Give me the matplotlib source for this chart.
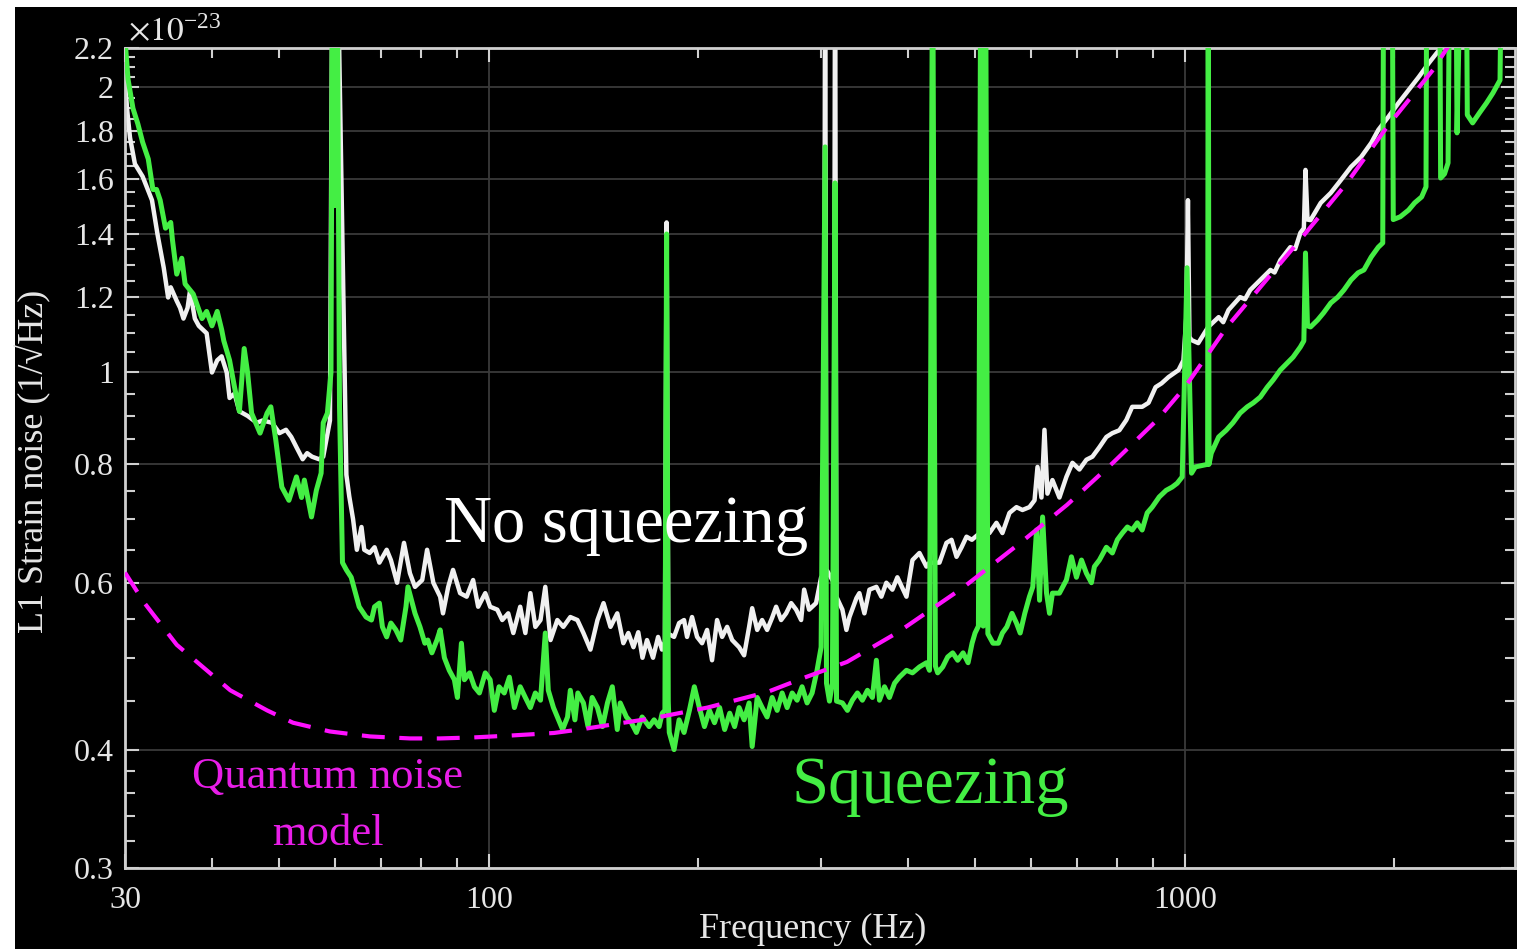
import matplotlib
matplotlib.use('Agg')
import matplotlib.pyplot as plt
from matplotlib.ticker import FixedLocator, FixedFormatter, NullFormatter
from matplotlib.patches import Rectangle

plt.rcParams['font.family'] = ['Liberation Serif', 'DejaVu Serif']
plt.rcParams['mathtext.fontset'] = 'stix'

# ---------------- data (strain noise in units of 1e-23 /sqrt(Hz)) ----------------
white_f = [30, 30.2, 30.5, 31.0, 31.8, 32.8, 33.4, 34.1, 34.6, 34.9, 35.6, 36.0, 36.4, 36.9,
           37.2, 37.8, 38.3, 39.3, 40.0, 40.7, 41.3, 42.0, 42.4, 43.1, 43.8, 45.0, 46.4, 47.3,
           48.8, 50.0, 51.1, 52.0, 52.9, 54.0, 54.8, 55.7, 57.0, 57.8, 59.1, 59.6, 60.0, 60.5,
           62.4, 63.0, 63.8, 64.6, 65.6, 66.2, 67.4, 68.5, 69.6, 71.3, 72.3, 73.8, 75.5, 77.0,
           78.3, 80.2, 81.5, 83.2, 85.1, 85.9, 87.4, 88.8, 90.9, 92.9, 94.9, 96.5, 98.8, 100.4,
           102.8, 104.5, 106.6, 108.4, 110.9, 112.8, 114.7, 116.6, 118.6, 120.5, 122.6, 125.4,
           127.9, 130.9, 134.0, 136.7, 139.9, 143.2, 146.1, 149.5, 152.9, 156.0, 158.6, 161.3,
           163.9, 166.2, 168.7, 172.1, 175.0, 177.3, 179.0, 180.0, 181.0, 184.5, 187.6, 190.7,
           192.6, 195.8, 199.1, 202.4, 205.8, 209.2, 212.7, 216.3, 219.9, 223.6, 228.8, 232.6,
           236.5, 238.9, 242.9, 246.9, 251.0, 255.2, 258.6, 262.9, 267.3, 271.8, 276.3, 280.9,
           283.7, 288.4, 295.1, 300.1, 303.0, 304.1, 305.3, 313.0, 314.3, 315.6, 322.0, 326.3,
           329.6, 337.3, 340.6, 346.3, 352.1, 360.3, 366.3, 372.4, 379.9, 386.2, 392.0, 398.0,
           406.0, 415.5, 425.2, 429.5, 443.9, 454.3, 462.0, 469.7, 477.6, 485.5, 494.2, 505.0,
           523.7, 536.0, 546.7, 559.6, 572.7, 584.2, 597.8, 608.0, 614.0, 622.1, 628.3, 634.5,
           645.1, 660.2, 675.6, 689.2, 705.3, 721.8, 736.3, 753.5, 771.1, 786.5, 804.9, 823.8,
           839.9, 868.0, 886.5, 907.4, 925.6, 947.2, 979.1, 995, 1005, 1010, 1015, 1022, 1045,
           1080, 1118, 1135, 1155, 1200, 1220, 1241, 1283, 1327, 1345, 1371, 1417, 1440, 1465,
           1482, 1490, 1500, 1515, 1567, 1620, 1675, 1732, 1791, 1852, 1896, 1960, 2027, 2096,
           2167, 2241, 2318, 2400, 2980]
white_v = [2.05, 1.90, 1.77, 1.66, 1.61, 1.52, 1.40, 1.29, 1.20, 1.23, 1.19, 1.17, 1.14, 1.17,
           1.22, 1.14, 1.12, 1.10, 1.00, 1.03, 1.04, 1.00, 0.94, 0.95, 0.91, 0.90, 0.885, 0.89,
           0.885, 0.863, 0.87, 0.855, 0.834, 0.81, 0.822, 0.815, 0.81, 0.815, 0.89, 3.0, 1.5, 3.0,
           0.78, 0.74, 0.70, 0.65, 0.687, 0.65, 0.645, 0.654, 0.63, 0.65, 0.634, 0.60, 0.661, 0.614,
           0.594, 0.604, 0.65, 0.60, 0.58, 0.557, 0.594, 0.619, 0.585, 0.58, 0.604, 0.566, 0.585, 0.566,
           0.562, 0.548, 0.557, 0.531, 0.566, 0.531, 0.585, 0.539, 0.548, 0.594, 0.522, 0.548,
           0.539, 0.552, 0.548, 0.531, 0.51, 0.548, 0.571, 0.539, 0.557, 0.518, 0.531, 0.513,
           0.532, 0.50, 0.522, 0.50, 0.526, 0.51, 0.52, 1.44, 0.53, 0.526, 0.544, 0.548,
           0.526, 0.552, 0.526, 0.518, 0.535, 0.497, 0.548, 0.526, 0.539, 0.522, 0.513, 0.503,
           0.539, 0.564, 0.535, 0.548, 0.535, 0.551, 0.566, 0.548, 0.557, 0.571, 0.562, 0.548,
           0.59, 0.562, 0.571, 0.608, 0.60, 3.0, 0.62, 0.60, 3.0, 0.58, 0.562, 0.535,
           0.552, 0.578, 0.585, 0.557, 0.590, 0.594, 0.580, 0.600, 0.590, 0.608, 0.594, 0.580,
           0.634, 0.645, 0.624, 0.630, 0.63, 0.661, 0.666, 0.639, 0.654, 0.671, 0.666, 0.675,
           0.677, 0.694, 0.677, 0.711, 0.721, 0.716, 0.721, 0.733, 0.795, 0.738, 0.870, 0.745,
           0.770, 0.738, 0.776, 0.803, 0.79, 0.809, 0.815, 0.834, 0.855, 0.863, 0.869, 0.891,
           0.920, 0.92, 0.929, 0.965, 0.974, 0.989, 1.006, 1.03, 1.15, 1.52, 1.09, 1.082, 1.074,
           1.117, 1.144, 1.13, 1.164, 1.201, 1.195, 1.222, 1.252, 1.283, 1.275, 1.314, 1.356, 1.35, 1.404,
           1.42, 1.636, 1.45, 1.448, 1.510, 1.547, 1.596, 1.648, 1.688, 1.747, 1.803, 1.861, 1.925, 1.987,
           2.050, 2.121, 2.189, 2.27, 2.9]

green_f = [30, 30.3, 30.8, 31.3, 31.8, 32.4, 32.9, 33.3, 33.7, 34.3, 34.9, 35.1, 35.6, 36.2,
           36.6, 37.6, 38.7, 39.3, 40.0, 40.7, 41.3, 41.6, 42.4, 43.1, 43.8, 44.5, 45.0, 45.6,
           46.9, 48.0, 48.6, 49.4, 50.4, 51.6, 52.9, 53.8, 54.3, 55.6, 56.5, 57.4, 57.8, 58.6,
           59.3, 59.6, 60.0, 60.5, 61.0, 61.4, 61.6, 62.4, 63.4, 64.1, 65.1, 66.6, 67.8, 68.5,
           69.6, 70.3, 71.3, 72.3, 73.5, 74.7, 76.0, 76.5, 78.3, 79.6, 80.9, 81.7, 82.8, 84.2,
           85.1, 86.3, 87.7, 89.2, 90.1, 91.3, 92.2, 93.8, 95.3, 96.9, 98.8, 100.4, 101.8, 103.4,
           105.2, 107.0, 108.8, 110.9, 112.8, 114.7, 116.6, 118.6, 120.5, 121.7, 123.8, 125.9,
           127.6, 129.7, 130.9, 132.9, 134.2, 136.7, 138.8, 140.7, 143.2, 145.6, 148.0, 150.4,
           152.9, 154.4, 157.6, 160.2, 162.9, 166.0, 169.9, 172.7, 175.6, 177.4, 179.0, 180.0,
           181.0, 181.6, 184.5, 187.6, 190.7, 194.1, 197.3, 200.6, 204.0, 207.4, 210.9, 214.5,
           218.1, 221.8, 225.4, 228.8, 232.6, 236.5, 238.9, 242.9, 246.9, 251.0, 255.2, 259.5,
           263.8, 268.2, 272.7, 277.2, 281.8, 286.5, 291.3, 296.1, 300.1, 304.1, 305.5, 308.5,
           311.5, 314.3, 315.8, 322.0, 327.4, 332.8, 338.4, 344.0, 349.8, 355.6, 360.3, 364.0,
           370.1, 376.2, 382.6, 388.8, 398.0, 406.0, 415.5, 425.2, 429.5, 434.0, 438.0, 441.3,
           448.7, 456.2, 463.8, 471.5, 480.0, 488.0, 494.5, 499.4, 505.0, 509.0, 513.0, 517.0,
           521.0, 524.0, 529.9, 539.5, 546.7, 554.8, 564.3, 572.7, 579.8, 588.7, 597.8, 604.5,
           612.1, 618.2, 624.4, 632.6, 638.9, 645.1, 660.2, 675.6, 686.9, 698.4, 710.2, 721.8,
           733.9, 741.2, 753.5, 771.1, 786.5, 799.6, 813.0, 826.6, 839.9, 854.0, 868.0, 882.6,
           897.3, 918.4, 939.8, 958.6, 974.6, 991, 1007, 1022, 1035, 1078, 1080, 1083, 1091,
           1118, 1146, 1172, 1200, 1229, 1254, 1283, 1313, 1339, 1371, 1402, 1430, 1465, 1482,
           1490, 1500, 1515, 1551, 1582, 1620, 1658, 1692, 1732, 1773, 1808, 1852, 1896, 1924,
           1930, 1985, 1992, 2039, 2096, 2138, 2188, 2220, 2226, 2322, 2330, 2360, 2388, 2403,
           2450, 2460, 2495, 2535, 2545, 2590, 2649, 2712, 2770, 2836, 2853, 2980]
green_v = [2.25, 2.04, 1.90, 1.83, 1.75, 1.68, 1.56, 1.56, 1.52, 1.42, 1.44, 1.38, 1.27, 1.32,
           1.24, 1.21, 1.14, 1.16, 1.12, 1.16, 1.11, 1.08, 1.03, 0.965, 0.91, 1.06, 1.00, 0.906,
           0.863, 0.906, 0.92, 0.849, 0.757, 0.733, 0.776, 0.738, 0.77, 0.704, 0.751, 0.783, 0.885, 0.906,
           1.0, 3.0, 1.5, 3.0, 0.92, 0.72, 0.63, 0.619, 0.608, 0.59, 0.566, 0.552, 0.548, 0.566,
           0.571, 0.539, 0.526, 0.544, 0.535, 0.522, 0.566, 0.594, 0.557, 0.539, 0.518, 0.522, 0.506, 0.522,
           0.535, 0.50, 0.485, 0.474, 0.454, 0.518, 0.474, 0.482, 0.466, 0.459, 0.482, 0.474, 0.440, 0.466,
           0.459, 0.477, 0.443, 0.466, 0.454, 0.443, 0.459, 0.451, 0.531, 0.462, 0.443, 0.430,
           0.420, 0.433, 0.462, 0.430, 0.459, 0.448, 0.423, 0.454, 0.443, 0.423, 0.448, 0.466,
           0.420, 0.448, 0.433, 0.427, 0.417, 0.433, 0.423, 0.430, 0.423, 0.437, 0.44, 1.40,
           0.45, 0.417, 0.400, 0.430, 0.417, 0.440, 0.466, 0.443, 0.423, 0.440, 0.427, 0.443,
           0.420, 0.437, 0.423, 0.443, 0.430, 0.448, 0.403, 0.454, 0.443, 0.433, 0.454, 0.440,
           0.459, 0.443, 0.459, 0.451, 0.466, 0.448, 0.459, 0.485, 0.513, 1.73, 0.47, 0.45,
           0.47, 1.585, 0.45, 0.448, 0.440, 0.451, 0.459, 0.451, 0.462, 0.454, 0.497, 0.451,
           0.466, 0.454, 0.470, 0.477, 0.485, 0.482, 0.489, 0.494, 0.485, 3.0, 0.49, 0.482,
           0.489, 0.501, 0.506, 0.497, 0.506, 0.494, 0.518, 0.531, 0.54, 3.0, 0.54, 3.0,
           0.53, 0.526, 0.518, 0.518, 0.531, 0.539, 0.557, 0.544, 0.531, 0.557, 0.580, 0.594,
           0.682, 0.575, 0.704, 0.585, 0.557, 0.585, 0.585, 0.604, 0.639, 0.608, 0.634, 0.614,
           0.60, 0.624, 0.634, 0.654, 0.645, 0.666, 0.677, 0.687, 0.682, 0.694, 0.682, 0.711,
           0.721, 0.739, 0.751, 0.757, 0.764, 0.776, 1.29, 0.783, 0.795, 0.80, 3.0, 0.80, 0.822,
           0.855, 0.869, 0.885, 0.906, 0.920, 0.929, 0.942, 0.965, 0.982, 1.006, 1.023, 1.038, 1.064, 1.08,
           1.337, 1.12, 1.117, 1.136, 1.156, 1.184, 1.201, 1.222, 1.252, 1.274, 1.283, 1.324, 1.356, 1.370,
           3.0, 3.0, 1.45, 1.46, 1.484, 1.510, 1.532, 1.570, 3.0, 3.0, 1.604, 1.62, 1.664, 3.0,
           3.0, 1.79, 3.0, 3.0, 1.87, 1.834, 1.879, 1.925, 1.972, 2.035, 3.0, 3.0]

model_f = [30, 32.0, 35.6, 42.5, 48.0, 52.3, 59.1, 67.5, 77, 85, 95, 108, 124, 138, 173, 206,
           251, 283, 327, 387, 480, 580, 677, 788, 912, 1000, 1149, 1463, 1709, 1951, 2272, 2400]
model_v = [0.615, 0.571, 0.516, 0.462, 0.440, 0.427, 0.418, 0.413, 0.411, 0.411, 0.412, 0.414,
           0.4165, 0.421, 0.432, 0.443, 0.460, 0.476, 0.495, 0.532, 0.593, 0.661, 0.725, 0.803,
           0.891, 0.965, 1.117, 1.380, 1.585, 1.816, 2.086, 2.22]

x_major = [30, 100, 1000]
x_labels = ['30', '100', '1000']
x_minor = [40, 50, 60, 70, 80, 90, 200, 300, 400, 500, 600, 700, 800, 900, 2000]
y_major = [0.3, 0.4, 0.6, 0.8, 1.0, 1.2, 1.4, 1.6, 1.8, 2.0, 2.2]
y_labels = ['0.3', '0.4', '0.6', '0.8', '1', '1.2', '1.4', '1.6', '1.8', '2', '2.2']
y_minor = [0.32, 0.34, 0.36, 0.38, 0.45, 0.5, 0.55, 0.65, 0.7, 0.75, 0.85, 0.9, 0.95,
           1.05, 1.1, 1.15, 1.25, 1.3, 1.35, 1.45, 1.5, 1.55, 1.65, 1.7, 1.75, 1.85, 1.9,
           1.95, 2.05, 2.1, 2.15]

# ---------------- figure ----------------
W, H = 1517, 949
fig = plt.figure(figsize=(W / 100, H / 100), dpi=100, facecolor='white')
fig.patches.append(Rectangle((15 / W, 0), 1, 1 - 7 / H, transform=fig.transFigure,
                             facecolor='black', edgecolor='none', zorder=-10))

ax = fig.add_axes([125 / W, (H - 868) / H, (1515 - 125) / W, (868 - 48) / H])
ax.set_facecolor('black')
ax.set_xscale('log')
ax.set_yscale('log')

ax.plot(white_f, white_v, color='#f0f0f0', lw=3.2, zorder=2, solid_joinstyle='round')
ax.plot(green_f, green_v, color='#44ee44', lw=3.6, zorder=3, solid_joinstyle='round')
ax.plot(model_f, model_v, color='#ff10ff', lw=3.0, dashes=(5.5, 3.5), zorder=4)

ax.set_xlim(30, 2980)
ax.set_ylim(0.3, 2.2)

ax.xaxis.set_major_locator(FixedLocator(x_major))
ax.xaxis.set_major_formatter(FixedFormatter(x_labels))
ax.xaxis.set_minor_locator(FixedLocator(x_minor))
ax.xaxis.set_minor_formatter(NullFormatter())
ax.yaxis.set_major_locator(FixedLocator(y_major))
ax.yaxis.set_major_formatter(FixedFormatter(y_labels))
ax.yaxis.set_minor_locator(FixedLocator(y_minor))
ax.yaxis.set_minor_formatter(NullFormatter())

ax.tick_params(which='both', direction='in', top=True, right=True, color='#d0d0d0',
               labelcolor='#e6e6e6', labelsize=23)
ax.tick_params(which='major', length=10, width=1.5)
ax.tick_params(which='minor', length=7, width=1.5)
ax.tick_params(axis='x', which='major', pad=13)
ax.tick_params(axis='y', which='major', pad=8)
for s in ax.spines.values():
    s.set_color('#d0d0d0')
    s.set_linewidth(2)

ax.grid(True, which='major', color='#3a3a3a', lw=1.3)
ax.set_axisbelow(True)

tc = '#e6e6e6'
fig.text(128 / W, 1 - 41 / H, r'$\times10^{\mathregular{-23}}$', fontsize=24, color=tc,
         va='baseline', ha='left')
fig.text(813 / W, 1 - 938 / H, 'Frequency (Hz)', fontsize=26, color=tc, va='baseline', ha='center')
fig.text(33 / W, 1 - 461 / H, 'L1 Strain noise (1/\u221aHz)', fontsize=26, color=tc,
         rotation=90, va='center', ha='center')

fig.text(626 / W, 1 - 542 / H, 'No squeezing', fontsize=48, color='white', va='baseline', ha='center')
fig.text(930 / W, 1 - 803 / H, 'Squeezing', fontsize=48, color='#44ee44', va='baseline', ha='center')
fig.text(328 / W, 1 - 788 / H, 'Quantum noise', fontsize=32, color='#e81ee8', va='baseline', ha='center')
fig.text(328 / W, 1 - 845 / H, 'model', fontsize=32, color='#e81ee8', va='baseline', ha='center')

fig.savefig('out.png', dpi=100, facecolor=fig.get_facecolor())
